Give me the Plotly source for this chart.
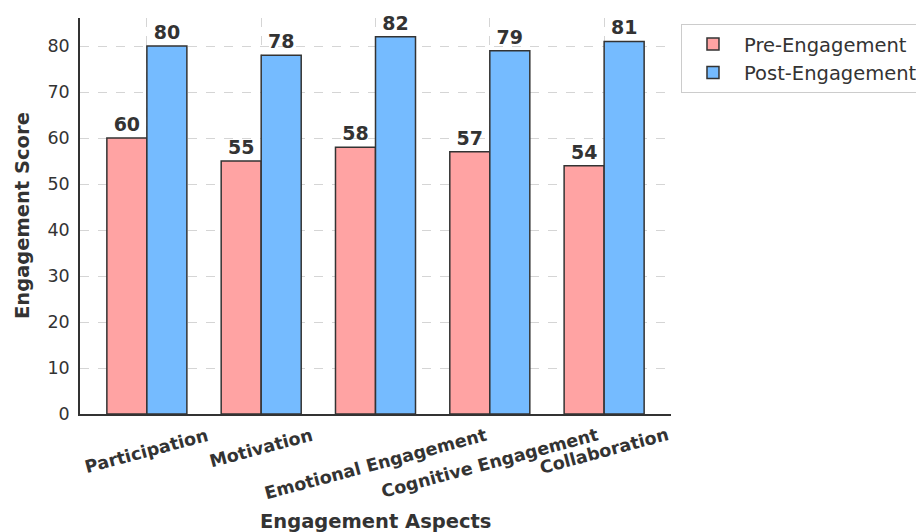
import plotly.graph_objects as go

categories = ['Participation', 'Motivation', 'Emotional Engagement', 'Cognitive Engagement', 'Collaboration']
pre_engagement = [60, 55, 58, 57, 54]
post_engagement = [80, 78, 82, 79, 81]
series_names = ['Pre-Engagement', 'Post-Engagement']
y_ticks = [0, 10, 20, 30, 40, 50, 60, 70, 80]

FONT = 'DejaVu Sans'
DARK = '#333333'

fig = go.Figure()
fig.add_trace(go.Bar(
    x=categories, y=pre_engagement, name=series_names[0],
    marker=dict(color='#ffa3a3', line=dict(color=DARK, width=1.5)),
    text=pre_engagement, textposition='outside', cliponaxis=False,
    textfont=dict(family=FONT, size=19, color=DARK, weight='bold'),
))
fig.add_trace(go.Bar(
    x=categories, y=post_engagement, name=series_names[1],
    marker=dict(color='#75bbff', line=dict(color=DARK, width=1.5)),
    text=post_engagement, textposition='outside', cliponaxis=False,
    textfont=dict(family=FONT, size=19, color=DARK, weight='bold'),
))

# rotated category labels
for i, c in enumerate(categories):
    fig.add_annotation(
        x=i, y=0, xref='x', yref='paper', text=c, showarrow=False,
        textangle=-15, xanchor='center', yanchor='top', yshift=-8,
        font=dict(family=FONT, size=17.5, color=DARK, weight='bold'),
    )

fig.add_annotation(
    x=0.5, y=-0.2727, xref='paper', yref='paper', text='Engagement Aspects',
    showarrow=False, xanchor='center', yanchor='middle',
    font=dict(family=FONT, size=19.5, color=DARK, weight='bold'),
)
fig.add_annotation(
    x=-0.0981, y=0.5, xref='paper', yref='paper', text='Engagement Score',
    showarrow=False, xanchor='center', yanchor='middle', textangle=-90,
    font=dict(family=FONT, size=19.5, color=DARK, weight='bold'),
)

fig.update_layout(
    width=916, height=532,
    margin=dict(l=80, r=245, t=18, b=118, autoexpand=False),
    paper_bgcolor='white', plot_bgcolor='white',
    barmode='group', bargap=0.3, bargroupgap=0,
    font=dict(family=FONT, color=DARK),
    legend=dict(
        x=1.0169, y=0.985, xanchor='left', yanchor='top',
        font=dict(family=FONT, size=19.5, color=DARK),
        bordercolor='#cccccc', borderwidth=1, bgcolor='white',
        itemwidth=52,
    ),
    xaxis=dict(
        type='category', range=[-0.585, 4.585],
        showticklabels=False, ticks='',
        showgrid=True, gridcolor='#d5d5d5', griddash='dash', gridwidth=1,
        showline=True, linecolor=DARK, linewidth=1.6,
    ),
    yaxis=dict(
        range=[0, 86.1], tickvals=y_ticks,
        tickfont=dict(family=FONT, size=17.5, color=DARK),
        ticks='outside', ticklen=5, tickcolor='rgba(0,0,0,0)',
        showgrid=True, gridcolor='#d5d5d5', griddash='dash', gridwidth=1,
        zeroline=False,
        showline=True, linecolor=DARK, linewidth=1.6,
    ),
)

fig.write_html('out.html')
